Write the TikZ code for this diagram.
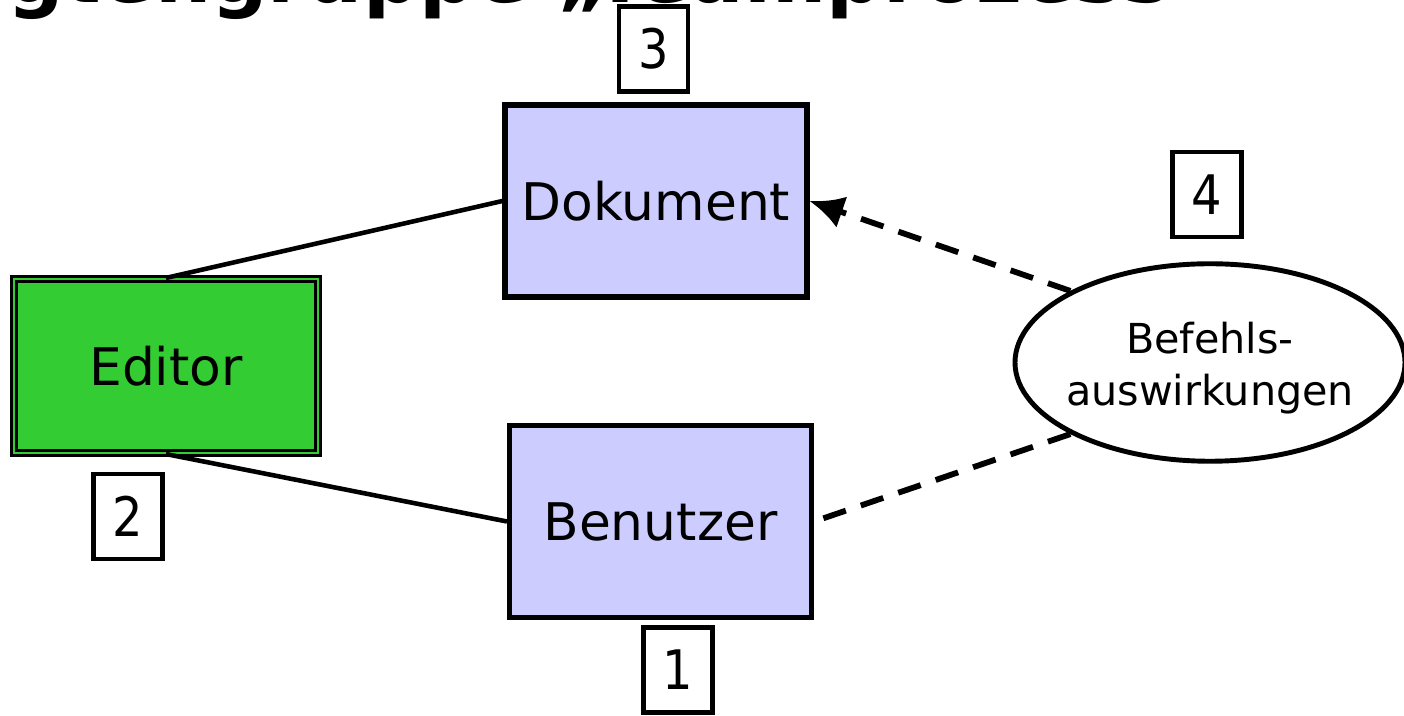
\documentclass[tikz,border=0pt]{standalone}
\usepackage{fontspec}
\setmainfont{DejaVu Sans}
\newfontfamily\digitfont[FakeStretch=0.88]{DejaVu Sans}
\usetikzlibrary{shapes.geometric,arrows.meta,positioning}
\definecolor{boxblue}{HTML}{CCCCFF}
\definecolor{editorgreen}{HTML}{33CC33}

\begin{document}
\begin{tikzpicture}[
  every node/.style={font=\fontsize{29.5}{32}\selectfont},
  entity/.style={draw, line width=2.9pt, fill=boxblue, minimum width=6.04cm, minimum height=3.84cm, inner sep=0pt},
  numbox/.style={draw, line width=2.8pt, fill=white, minimum width=1.38cm, minimum height=1.7cm, inner sep=0pt, font=\digitfont\fontsize{31}{32}\selectfont},
  link/.style={line width=2.6pt},
  effect/.style={line width=3.3pt, dash pattern=on 13.5pt off 9pt}
]
  \useasboundingbox (0,0) rectangle (28.08,14.32);
  \clip (0,0) rectangle (28.08,14.32);

  % Title (cut off at the top)
  \node[anchor=base west, inner sep=0pt, font=\bfseries\fontsize{45}{50}\selectfont] (title) at (-5.6,14.26) {Beteiligtengruppe „Teamprozess“};

  % Entities
  \node[entity] (dok) at (13.12,10.3) {Dokument};
  \node[entity] (ben) at (13.21,3.89) {Benutzer};
  \node[draw, line width=1.5pt, double=editorgreen, double distance=1.3pt, fill=editorgreen,
        minimum width=6.09cm, minimum height=3.47cm] (ed) at (3.32,7.0) {Editor};

  % Command effects
  \node[ellipse, draw, line width=2.8pt, fill=white, minimum width=7.8cm, minimum height=3.95cm] (eff) at (24.2,7.07) {};
  \node[align=center, font=\fontsize{23.5}{29.5}\selectfont] (efftext) at (24.2,6.95) {Befehls-\\auswirkungen};

  % Numbers
  \foreach \n/\x/\y in {1/13.56/0.92, 2/2.56/3.99, 3/13.07/13.34, 4/24.14/10.43}
    \node[numbox] (n\n) at (\x,\y) {\n};

  % Connections
  \draw[link] (ed.north) -- (dok.west);
  \draw[link] (ed.south) -- (ben.west);
  \draw[effect, -{Latex[length=0.68cm,width=0.66cm]}] (eff.north west) -- (dok.east);
  \draw[effect] (eff.south west) -- (ben.east);
\end{tikzpicture}
\end{document}
